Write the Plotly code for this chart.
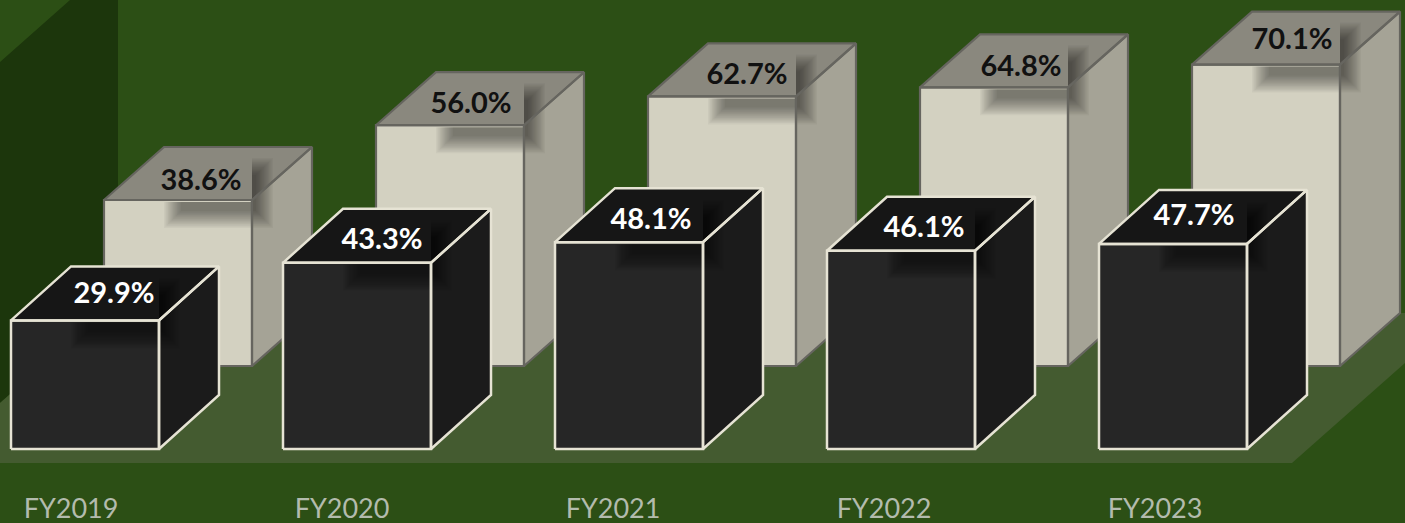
import plotly.graph_objects as go

categories = ["FY2019", "FY2020", "FY2021", "FY2022", "FY2023"]
back_values = [38.6, 56.0, 62.7, 64.8, 70.1]
front_values = [29.9, 43.3, 48.1, 46.1, 47.7]

# geometry, in pixels of the 1405x523 picture
W, H, MB = 1405, 523, 50
PX_CAT, PX_PCT = 272.0, 4.3
X0_PX, Y0_PX = 85.0, 449.0      # where category 0 / value 0 land
BAR_W = 148.0
DEPTH_X = 60.0
BACK_DX, BACK_DY = 93.0, 83.0
SHADOW_STEPS = 14
LABEL_FONT = "Lato"

def dx(px):
    return px / PX_CAT

def dy(px):
    return px / PX_PCT

def X(px):
    return (px - X0_PX) / PX_CAT

def Y(py):
    return (Y0_PX - py) / PX_PCT

def polys(items):
    xs, ys = [], []
    for pts in items:
        for a, b in pts:
            xs.append(a)
            ys.append(b)
        xs.append(pts[0][0])
        ys.append(pts[0][1])
        xs.append(None)
        ys.append(None)
    return xs, ys

def fill_trace(items, color):
    xs, ys = polys(items)
    return go.Scatter(x=xs, y=ys, mode="lines", fill="toself", fillcolor=color,
                      line=dict(width=0, color=color), hoverinfo="skip", showlegend=False)

def cubes(values, off_x, off_y, depth_y, face, top, side, edge, edge_w, shadow_alpha):
    out = []
    fronts, tops, sides, edges = [], [], [], []
    shadow_layers = [[] for _ in range(SHADOW_STEPS)]
    for i, v in enumerate(values):
        l = i - dx(BAR_W) / 2 + dx(off_x)
        r = l + dx(BAR_W)
        b = dy(off_y)
        t = b + v
        ddx, ddy = dx(DEPTH_X), dy(depth_y)
        f = [(l, b), (r, b), (r, t), (l, t)]
        tp = [(l, t), (r, t), (r + ddx, t + ddy), (l + ddx, t + ddy)]
        s = [(r, b), (r + ddx, b + ddy), (r + ddx, t + ddy), (r, t)]
        fronts.append(f)
        tops.append(tp)
        sides.append(s)
        edges += [f, tp, s]
        # soft shadow behind the label, cut off by its plate on the left
        for k in range(SHADOW_STEPS):
            inset = k * 1.3
            shadow_layers[k].append([
                (l + dx(60 + inset), t - dy(2)), (r, t - dy(2)),
                (r, t - dy(28 - inset)), (l + dx(60 + inset), t - dy(28 - inset))])
            shadow_layers[k].append([
                (r, t - dy(28 - inset)), (r + dx(21 - inset), t - dy(28 - inset)),
                (r + dx(21 - inset), t + dy(42 - inset)), (r, t + dy(42 - inset))])
    out.append(fill_trace(sides, side))
    out.append(fill_trace(tops, top))
    out.append(fill_trace(fronts, face))
    for layer in shadow_layers:
        out.append(fill_trace(layer, f"rgba(0,0,0,{shadow_alpha})"))
    xs, ys = polys(edges)
    out.append(go.Scatter(x=xs, y=ys, mode="lines", line=dict(color=edge, width=edge_w),
                          hoverinfo="skip", showlegend=False))
    return out

def labels(values, off_x, off_y, color, nudge):
    xs = [i - dx(BAR_W) / 2 + dx(off_x) + dx(97 + nudge[i][0]) for i in range(len(values))]
    ys = [dy(off_y) + v + dy(24 + nudge[i][1]) for i, v in enumerate(values)]
    return go.Scatter(x=xs, y=ys, mode="text", text=[f"{v:.1f}%" for v in values],
                      textposition="middle center",
                      textfont=dict(family=LABEL_FONT, size=29, color=color, weight=700),
                      hoverinfo="skip", showlegend=False)

BACK_NUDGE = [(0, -7), (-2, -5), (2, -4), (4, -5), (3, -1)]
FRONT_NUDGE = [(6, 1), (2, -3), (-1, -4), (0, -3), (-2, 2)]

fig = go.Figure()
fig.add_traces(cubes(back_values, BACK_DX, BACK_DY, 53, "#d3d1c1", "#8a887e", "#a5a396",
                     "#66655f", 2.2, 0.036))
fig.add_traces(cubes(front_values, 0, 0, 54, "#262626", "#161616", "#1b1b1b",
                     "#e6e3d4", 2.5, 0.036))
fig.add_trace(labels(back_values, BACK_DX, BACK_DY, "#111111", BACK_NUDGE))
fig.add_trace(labels(front_values, 0, 0, "#ffffff", FRONT_NUDGE))

def path(pts):
    return "M" + " L".join(f"{X(a):.5f},{Y(b):.5f}" for a, b in pts) + " Z"

shapes = [
    dict(type="path", layer="below", line=dict(width=0), fillcolor="#1c360c",
         path=path([(0, 62), (70, 0), (118, 0), (118, 313), (102, 313), (0, 403)])),
    dict(type="path", layer="below", line=dict(width=0), fillcolor="#445b30",
         path=path([(0, 463), (1292, 463), (1405, 363), (1405, 313), (102, 313), (0, 403)])),
]

fig.update_layout(
    width=W, height=H,
    margin=dict(l=0, r=0, t=0, b=MB, pad=0, autoexpand=False),
    paper_bgcolor="#2c4f15", plot_bgcolor="#2c4f15",
    showlegend=False,
    shapes=shapes,
    xaxis=dict(range=[X(0), X(W)], showgrid=False, zeroline=False, showline=False,
               automargin=False,
               tickmode="array",
               tickvals=[i * 271 / 272 - dx(14) for i in range(len(categories))],
               ticktext=categories, ticks="outside", ticklen=12,
               tickcolor="rgba(0,0,0,0)",
               tickfont=dict(family=LABEL_FONT, size=27, color="#b3bbad")),
    yaxis=dict(range=[Y(H - MB), Y(0)], visible=False, automargin=False),
)

fig.write_html("out.html", config=dict(displayModeBar=False),
               post_script="document.body.style.margin='0';document.body.style.overflow='hidden';")
